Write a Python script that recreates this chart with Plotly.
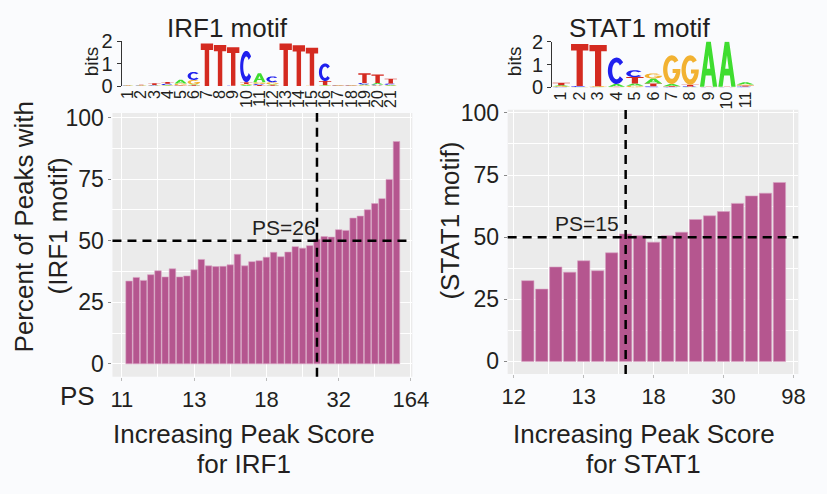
import math
import plotly.graph_objects as go

# ---------------- data ----------------
irf1_pct = [33.6, 35.1, 33.9, 36.2, 37.8, 35.3, 38.6, 35.3, 35.7, 38.2,
            42.4, 39.8, 39.5, 39.6, 40.2, 44.5, 39.8, 41.5, 41.9, 43.3,
            45.3, 43.5, 45.4, 47.6, 47.0, 48.0, 50.6, 51.7, 51.5, 54.5,
            54.2, 59.2, 60.0, 62.6, 65.1, 67.1, 74.9, 90.3]
irf1_tick_pos = [0, 10, 20, 30, 40]
irf1_ps_ticks = ["11", "13", "18", "32", "164"]
irf1_cut_bin = 27
irf1_cut_label = "PS=26"

stat1_pct = [32.5, 29.1, 38.0, 35.9, 40.5, 36.5, 43.7, 51.3, 50.6, 48.0,
             50.6, 52.0, 57.1, 58.6, 60.3, 63.6, 66.6, 67.7, 72.0]
stat1_tick_pos = [0, 5, 10, 15, 20]
stat1_ps_ticks = ["12", "13", "18", "30", "98"]
stat1_cut_bin = 8
stat1_cut_label = "PS=15"

pct_threshold = 50
pct_ticks = [0, 25, 50, 75, 100]

# sequence logo information content (bits) per letter and position
irf1_A = [0.01, 0.01, 0.01, 0.02, 0.17, 0.04, 0.00, 0.00, 0.00, 0.04, 0.40,
          0.04, 0.00, 0.00, 0.00, 0.02, 0.01, 0.01, 0.04, 0.07, 0.03]
irf1_C = [0.01, 0.01, 0.02, 0.06, 0.01, 0.36, 0.00, 0.00, 0.01, 1.40, 0.05,
          0.26, 0.00, 0.00, 0.00, 0.79, 0.01, 0.01, 0.07, 0.04, 0.06]
irf1_G = [0.01, 0.01, 0.02, 0.02, 0.08, 0.20, 0.00, 0.00, 0.00, 0.05, 0.08,
          0.10, 0.00, 0.00, 0.01, 0.02, 0.01, 0.01, 0.03, 0.03, 0.02]
irf1_T = [0.02, 0.03, 0.07, 0.08, 0.02, 0.03, 1.90, 1.83, 1.72, 0.08, 0.04,
          0.03, 1.90, 1.82, 1.70, 0.18, 0.01, 0.01, 0.43, 0.38, 0.22]

stat1_A = [0.05, 0.01, 0.01, 0.12, 0.10, 0.22, 0.10, 0.02, 1.97, 1.96, 0.10]
stat1_C = [0.02, 0.04, 0.01, 1.15, 0.30, 0.05, 0.02, 0.02, 0.01, 0.01, 0.04]
stat1_G = [0.03, 0.01, 0.03, 0.01, 0.07, 0.22, 1.25, 1.28, 0.01, 0.01, 0.05]
stat1_T = [0.10, 1.83, 1.80, 0.02, 0.28, 0.12, 0.03, 0.08, 0.01, 0.01, 0.04]

# ---------------- style ----------------
W, H = 827, 494
BG = "#FAFBFD"
PANEL = "#EBEBEB"
TXT = "#231F20"
BAR = "#B5568F"
EDGE = "#D9A3C3"
FONT = "Liberation Sans, Arial, sans-serif"
LETTER_COL = {"A": "#3FDD30", "C": "#2020EE", "G": "#F2B232", "T": "#D42A20"}


def px(x):
    return x / W


def py(y):
    return 1 - y / H


def arc(cx, cy, rx, ry, a0, a1, n):
    pts = []
    for i in range(n + 1):
        t = math.radians(a0 + (a1 - a0) * i / n)
        pts.append((cx + rx * math.cos(t), cy + ry * math.sin(t)))
    return pts


GLYPHS = {
    "T": [[(0, 1), (1, 1), (1, 0.85), (0.68, 0.85), (0.68, 0), (0.32, 0),
           (0.32, 0.85), (0, 0.85)]],
    "C": [arc(0.5, 0.5, 0.5, 0.5, 40, 320, 40) + arc(0.5, 0.5, 0.25, 0.32, 320, 40, 40)],
    "G": [arc(0.5, 0.5, 0.5, 0.5, 40, 352, 44)
          + [(1.0, 0.52), (0.55, 0.52), (0.55, 0.38), (0.75, 0.38)]
          + arc(0.5, 0.5, 0.25, 0.32, 330, 50, 40)],
    "A": [[(0, 0), (0.37, 1), (0.63, 1), (1, 0), (0.75, 0), (0.665, 0.25),
           (0.335, 0.25), (0.25, 0)],
          [(0.40, 0.40), (0.60, 0.40), (0.5, 0.70)]],
}


def logo_shapes(cols, xref, yref, width=0.94):
    shapes = []
    n = len(cols["A"])
    for i in range(n):
        pos = i + 1
        stack = sorted([(cols[L][i], L) for L in "ACGT"], key=lambda t: t[0])
        base = 0.0
        for h, L in stack:
            if h <= 0.004:
                continue
            parts = []
            for poly in GLYPHS[L]:
                seg = []
                for k, (u, v) in enumerate(poly):
                    x = pos - width / 2 + u * width
                    y = base + v * h
                    seg.append(("M" if k == 0 else "L") + f"{x:.4f},{y:.4f}")
                parts.append("".join(seg) + "Z")
            shapes.append(dict(type="path", path="".join(parts), xref=xref, yref=yref,
                               fillcolor=LETTER_COL[L], line=dict(width=0),
                               fillrule="evenodd", layer="above"))
            base += h
    return shapes


fig = go.Figure()
fig.add_trace(go.Bar(x=list(range(1, len(irf1_pct) + 1)), y=irf1_pct, width=0.9,
                     marker=dict(color=BAR, line=dict(color=EDGE, width=0.6)),
                     xaxis="x", yaxis="y", hoverinfo="skip"))
fig.add_trace(go.Bar(x=list(range(1, len(stat1_pct) + 1)), y=stat1_pct, width=0.88,
                     marker=dict(color=BAR, line=dict(color=EDGE, width=0.6)),
                     xaxis="x2", yaxis="y2", hoverinfo="skip"))
fig.add_trace(go.Scatter(x=[], y=[], xaxis="x3", yaxis="y3"))
fig.add_trace(go.Scatter(x=[], y=[], xaxis="x4", yaxis="y4"))


def bar_xaxis(dom, rng, tv, tt, minor, anchor):
    return dict(domain=dom, range=rng, anchor=anchor, tickmode="array", tickvals=tv,
                ticktext=tt, showgrid=True, gridcolor="white", gridwidth=1.2,
                minor=dict(tickvals=minor, showgrid=True, gridcolor="white",
                           gridwidth=0.6, ticks=""),
                ticks="outside", ticklen=3, tickcolor="#BBBBBB", tickfont=dict(size=22),
                zeroline=False, showline=False, fixedrange=True)


def bar_yaxis(dom, rng, anchor):
    return dict(domain=dom, range=rng, anchor=anchor, tickmode="array", tickvals=pct_ticks,
                showgrid=True, gridcolor="white", gridwidth=1.2,
                minor=dict(tickvals=[12.5, 37.5, 62.5, 87.5], showgrid=True,
                           gridcolor="white", gridwidth=0.6, ticks=""),
                ticks="outside", ticklen=3, tickcolor="#888888", tickfont=dict(size=23),
                zeroline=False, showline=False, fixedrange=True)


def logo_xaxis(dom, n, anchor):
    return dict(domain=dom, range=[0.5, n + 0.5], anchor=anchor, tickmode="array",
                tickvals=list(range(1, n + 1)), ticktext=[str(i) for i in range(1, n + 1)],
                tickangle=-90, tickfont=dict(size=16), ticks="", showgrid=False,
                zeroline=False, showline=False, fixedrange=True)


def logo_yaxis(dom, anchor):
    return dict(domain=dom, range=[0, 2], anchor=anchor, tickmode="array", tickvals=[0, 1, 2],
                tickfont=dict(size=20), ticks="outside", ticklen=4, tickcolor="#333333",
                showline=True, linecolor="#333333", linewidth=1, showgrid=False,
                zeroline=False, fixedrange=True)


layout = dict(
    width=W, height=H, margin=dict(l=0, r=0, t=0, b=0), paper_bgcolor=BG, plot_bgcolor=BG,
    showlegend=False, font=dict(family=FONT, color=TXT),
    xaxis=bar_xaxis([px(109.5), px(418)], [-1.3, 40.2], irf1_tick_pos, irf1_ps_ticks,
                    [5, 15, 25, 35], "y"),
    yaxis=bar_yaxis([py(382.7), py(106.7)], [-5.2, 101.9], "x"),
    xaxis2=bar_xaxis([px(516), px(815)], [-0.44, 20.35], stat1_tick_pos, stat1_ps_ticks,
                     [2.5, 7.5, 12.5, 17.5], "y2"),
    yaxis2=bar_yaxis([py(380), py(103.3)], [-5.1, 101.3], "x2"),
    xaxis3=logo_xaxis([px(118.9), px(402.5)], len(irf1_A), "y3"),
    yaxis3=logo_yaxis([py(78.5), py(31.7)], "x3"),
    xaxis4=logo_xaxis([px(561.7), px(770)], len(stat1_A), "y4"),
    yaxis4=logo_yaxis([py(80), py(32)], "x4"),
)
fig.update_layout(**layout)

shapes = []
for xr, yr in (("x", "y"), ("x2", "y2")):
    shapes.append(dict(type="rect", xref=f"{xr} domain", yref=f"{yr} domain", x0=0, x1=1,
                       y0=0, y1=1, fillcolor=PANEL, line=dict(width=0), layer="below"))
dash = dict(color="black", width=2.5, dash="9px,6px")
shapes.append(dict(type="line", xref="x", yref="y domain", x0=irf1_cut_bin, x1=irf1_cut_bin,
                   y0=0, y1=1, line=dash))
shapes.append(dict(type="line", xref="x domain", yref="y", x0=0, x1=1, y0=pct_threshold,
                   y1=pct_threshold, line=dash))
shapes.append(dict(type="line", xref="x2", yref="y2 domain", x0=stat1_cut_bin,
                   x1=stat1_cut_bin, y0=0, y1=1, line=dash))
shapes.append(dict(type="line", xref="x2 domain", yref="y2", x0=0, x1=1, y0=pct_threshold,
                   y1=pct_threshold, line=dash))
shapes += logo_shapes({"A": irf1_A, "C": irf1_C, "G": irf1_G, "T": irf1_T}, "x3", "y3")
shapes += logo_shapes({"A": stat1_A, "C": stat1_C, "G": stat1_G, "T": stat1_T}, "x4", "y4")
fig.update_layout(shapes=shapes)


def ann(text, x, y, size, angle=0, xanchor="center"):
    return dict(text=text, x=px(x), y=py(y), xref="paper", yref="paper", showarrow=False,
                font=dict(size=size, color=TXT, family=FONT), textangle=angle,
                xanchor=xanchor, yanchor="middle")


anns = [
    ann("IRF1 motif", 228, 18, 26),
    ann("STAT1 motif", 652, 18, 26),
    ann("bits", 88, 53, 19, -90),
    ann("bits", 523, 52, 19, -90),
    ann("Percent of Peaks with", 18, 226, 26, -90),
    ann("(IRF1 motif)", 53, 225, 26, -90),
    ann("(STAT1 motif)", 457, 219, 26, -90),
    ann("PS", 74, 403, 26),
    ann("Increasing Peak Score", 245, 443, 26),
    ann("for IRF1", 245, 474, 26),
    ann("Increasing Peak Score", 656, 443, 26),
    ann("for STAT1", 656, 474, 26),
    dict(text=irf1_cut_label, x=irf1_cut_bin, y=pct_threshold, xref="x", yref="y",
         showarrow=False, xanchor="right", yanchor="bottom", xshift=1,
         font=dict(size=21, color=TXT, family=FONT)),
    dict(text=stat1_cut_label, x=stat1_cut_bin, y=pct_threshold, xref="x2", yref="y2",
         showarrow=False, xanchor="right", yanchor="bottom", xshift=-5,
         font=dict(size=21, color=TXT, family=FONT)),
]
fig.update_layout(annotations=anns)

fig.write_html("out.html")
